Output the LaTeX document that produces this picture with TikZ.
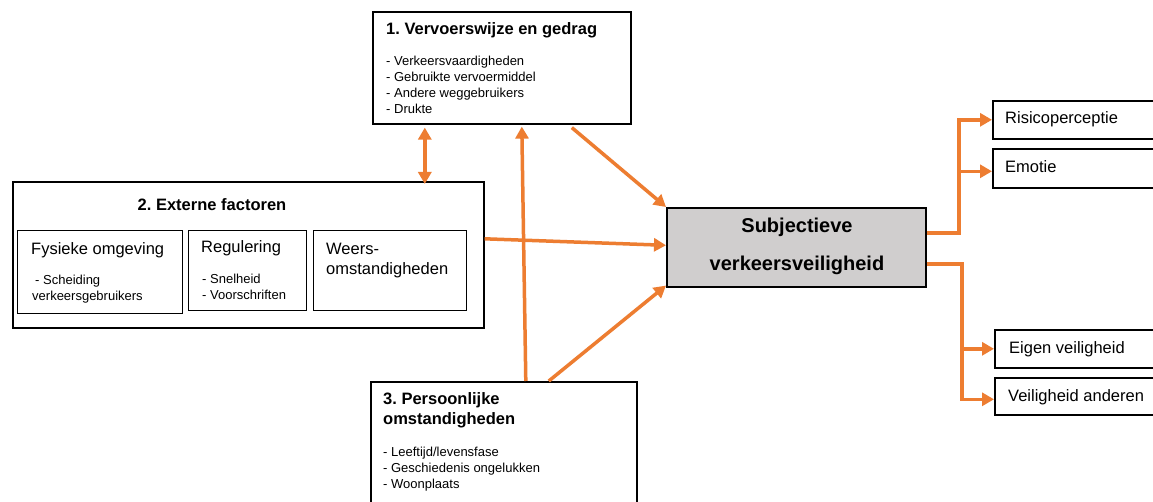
\documentclass[tikz,border=0pt]{standalone}
\usepackage{fontspec}
\setmainfont{Liberation Sans}
\usetikzlibrary{arrows.meta,calc}
\definecolor{org}{HTML}{ED7D31}
\definecolor{cgray}{HTML}{D0CECE}
\frenchspacing
\begin{document}
\begin{tikzpicture}[x=1pt,y=-1pt,
 box/.style={draw=black,line width=1.6pt,inner sep=0pt,anchor=north west},
 sbox/.style={draw=black,line width=1.4pt,inner sep=0pt,anchor=north west},
 ttl/.style={font=\fontsize{16.5}{20}\selectfont\bfseries,anchor=base west,inner sep=0pt},
 lbl/.style={font=\fontsize{16.5}{20}\selectfont,anchor=base west,inner sep=0pt},
 itm/.style={font=\fontsize{13}{16}\selectfont,anchor=base west,inner sep=0pt},
 big/.style={font=\fontsize{20}{24}\selectfont\bfseries,anchor=base,inner sep=0pt},
 tip/.tip={Triangle[length=12pt,width=13pt]},
 arr/.style={draw=org,line width=3.5pt,-tip},
 darr/.style={draw=org,line width=3.5pt,tip-tip}
]
\useasboundingbox (0,0) rectangle (1153,502);
\clip (0,0) rectangle (1153,502);
\fill[white] (0,0) rectangle (1153,502);

% Box 1
\node[box,minimum width=258pt,minimum height=112pt] (b1) at (372,11) {};
\node[ttl] (t1) at (386,35) {1. Vervoerswijze en gedrag};
\node[itm] (i11) at (386,66) {- Verkeersvaardigheden};
\node[itm] (i12) at (386,82) {- Gebruikte vervoermiddel};
\node[itm] (i13) at (386,98) {- Andere weggebruikers};
\node[itm] (i14) at (386,114) {- Drukte};

% Box 2
\node[box,minimum width=471pt,minimum height=146pt] (b2) at (12,181) {};
\node[ttl,anchor=base] (t2) at (212,211) {2. Externe factoren};
\node[sbox,minimum width=165pt,minimum height=83pt] (f1) at (17,230) {};
\node[sbox,minimum width=118pt,minimum height=80pt] (f2) at (188,230) {};
\node[sbox,minimum width=153pt,minimum height=80pt] (f3) at (313,230) {};
\node[lbl] (l1) at (31,255) {Fysieke omgeving};
\node[itm] (l1a) at (35,285) {- Scheiding};
\node[itm] (l1b) at (32,301) {verkeersgebruikers};
\node[lbl] (l2) at (201,253) {Regulering};
\node[itm] (l2a) at (202,284) {- Snelheid};
\node[itm] (l2b) at (202,300) {- Voorschriften};
\node[lbl] (l3) at (326,255) {Weers-};
\node[lbl] (l3b) at (326,275) {omstandigheden};

% Box 3
\node[box,minimum width=266pt,minimum height=130pt] (b3) at (370,381) {};
\node[ttl] (t3) at (383,404) {3. Persoonlijke};
\node[ttl] (t3b) at (383,424) {omstandigheden};
\node[itm] (i31) at (383,456) {- Leeftijd/levensfase};
\node[itm] (i32) at (383,472) {- Geschiedenis ongelukken};
\node[itm] (i33) at (383,488) {- Woonplaats};

% Central
\node[box,fill=cgray,minimum width=259pt,minimum height=79pt] (c) at (666,207) {};
\node[big] (c1) at (797,233) {Subjectieve};
\node[big] (c2) at (797,271) {verkeersveiligheid};

% Right boxes
\node[box,minimum width=200pt,minimum height=38pt] (r1) at (992,100) {};
\node[box,minimum width=200pt,minimum height=39pt] (r2) at (992,148) {};
\node[box,minimum width=200pt,minimum height=38pt] (r3) at (994,329) {};
\node[box,minimum width=200pt,minimum height=37pt] (r4) at (994,377) {};
\node[lbl] (rt1) at (1005,124) {Risicoperceptie};
\node[lbl] (rt2) at (1005,173) {Emotie};
\node[lbl] (rt3) at (1009,353) {Eigen veiligheid};
\node[lbl] (rt4) at (1008,401) {Veiligheid anderen};

% Connectors into central
\draw[arr] ([xshift=70pt,yshift=-3pt]b1.south) -- (c.north west);
\draw[arr] ([yshift=16pt]b2.east) -- ([yshift=2pt]c.west);
\draw[arr] ([xshift=45pt]b3.north) -- ([yshift=2pt]c.south west);
\draw[arr] ([xshift=22pt]b3.north) -- ([xshift=20pt,yshift=-2pt]b1.south);
\draw[darr] ([xshift=-77pt,yshift=-3pt]b1.south) -- ([xshift=-77pt,yshift=-3pt]b1.south |- b2.north);

% Connectors out of central
\draw[arr] ([yshift=14.5pt]c.east) -| ([xshift=-33pt]r1.west) -- (r1.west);
\draw[arr] ([xshift=-33pt,yshift=-3pt]r2.west) -- ([yshift=-3pt]r2.west);
\draw[arr] ([yshift=-16.5pt]c.east) -| ([xshift=-32pt,yshift=-3pt]r4.west) -- ([yshift=-3pt]r4.west);
\draw[arr] ([xshift=-32pt]r3.west) -- (r3.west);
\end{tikzpicture}
\end{document}
